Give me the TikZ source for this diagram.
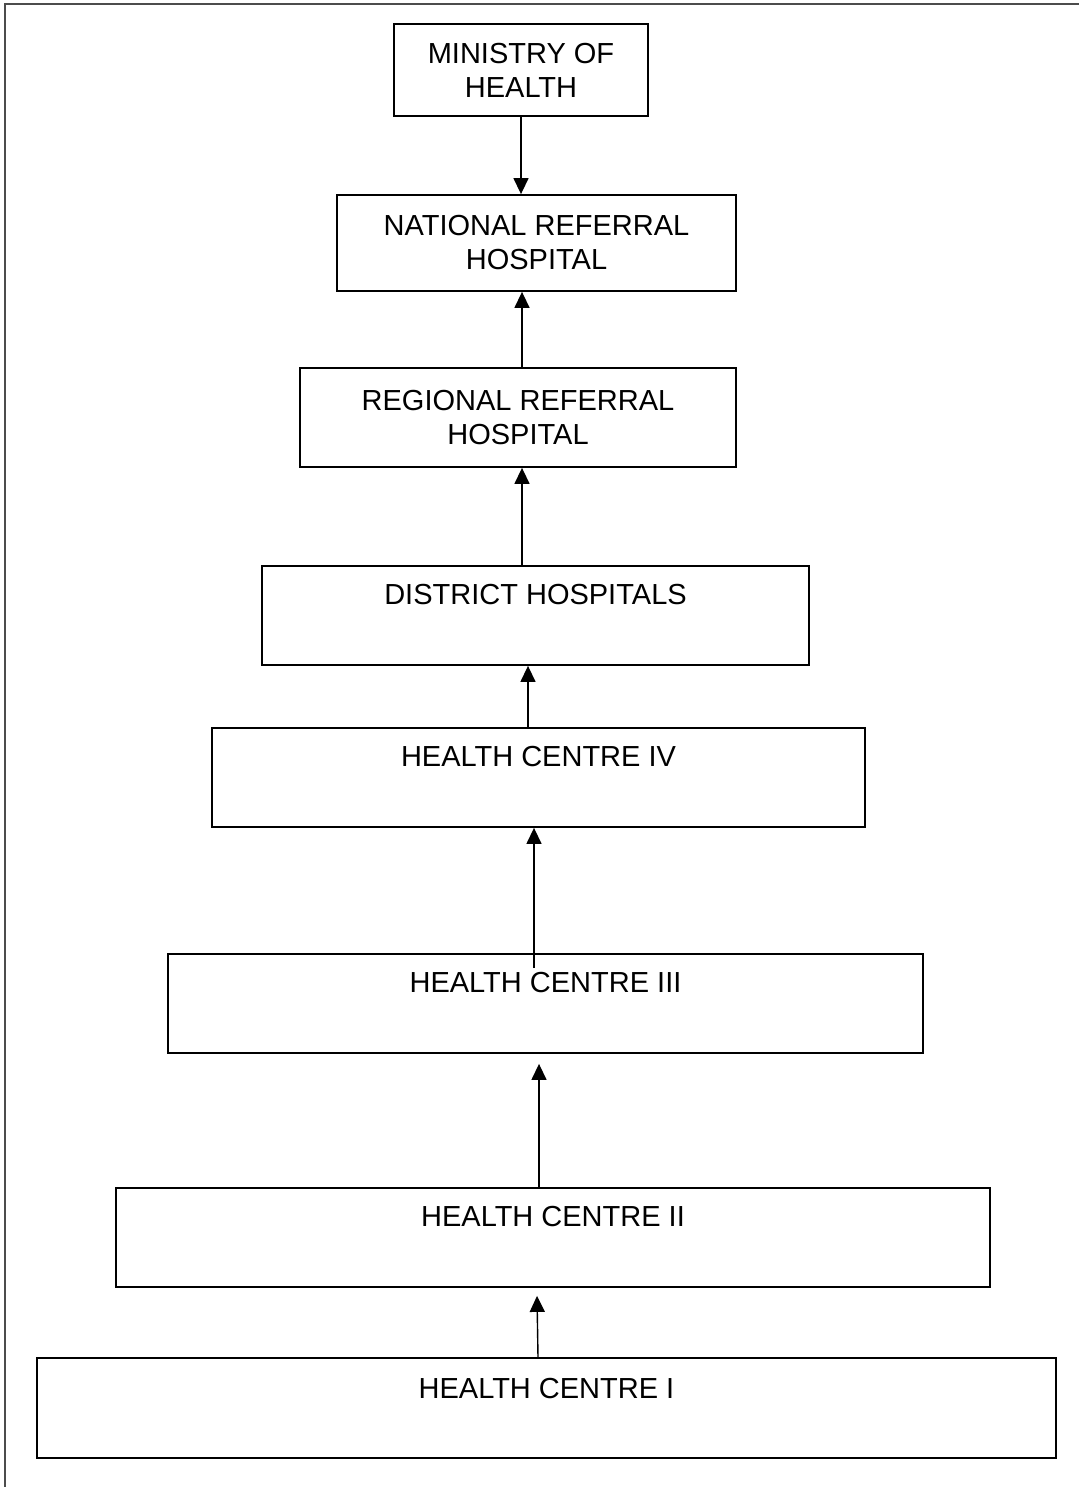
\documentclass[tikz,border=0pt]{standalone}
\usepackage{fontspec}
\setmainfont{Liberation Sans}
\usetikzlibrary{arrows.meta,calc}
\tikzset{
  box/.style={draw=black, line width=1.8pt, align=center, inner sep=0pt,
              font=\fontsize{29}{34}\selectfont},
  arr/.style={draw=black, line width=1.4pt, -{Triangle[length=16pt,width=15pt]}},
  frame/.style={draw=black!70, line width=2pt}
}
\begin{document}
\begin{tikzpicture}[x=1pt,y=-1pt]
\useasboundingbox (0,0) rectangle (1079,1487);
\draw[frame] (5,1487) -- (5,4) -- (1079,4);

\node[box, minimum width=254pt, minimum height=92pt] (min) at (521,70) {MINISTRY OF\\HEALTH};
\node[box, minimum width=399pt, minimum height=96pt] (nat) at (536.5,243) {NATIONAL REFERRAL\\HOSPITAL};
\node[box, minimum width=436pt, minimum height=99pt] (reg) at (518,417.5) {REGIONAL REFERRAL\\HOSPITAL};
\node[box, minimum width=547pt, minimum height=99pt] (dis) at (535.5,615.5) {DISTRICT HOSPITALS\\[9pt]\mbox{}};
\node[box, minimum width=653pt, minimum height=99pt] (hc4) at (538.5,777.5) {HEALTH CENTRE IV\\[9pt]\mbox{}};
\node[box, minimum width=755pt, minimum height=99pt] (hc3) at (545.5,1003.5) {HEALTH CENTRE III\\[9pt]\mbox{}};
\node[box, minimum width=874pt, minimum height=99pt] (hc2) at (553,1237.5) {HEALTH CENTRE II\\[8pt]\mbox{}};
\node[box, minimum width=1019pt, minimum height=100pt] (hc1) at (546.5,1408) {HEALTH CENTRE I\\[5pt]\mbox{}};

\draw[arr] (min.south) -- (min.south |- nat.north);
\draw[arr] ($(reg.north)+(4,0)$) coordinate (r1) -- (r1 |- nat.south);
\draw[arr] ($(dis.north)+(-13.5,0)$) coordinate (d1) -- (d1 |- reg.south);
\draw[arr] ($(hc4.north)+(-10.5,0)$) coordinate (h4) -- (h4 |- dis.south);
\draw[arr] ($(hc3.north)+(-11.5,15)$) coordinate (h3) -- (h3 |- hc4.south);
\draw[arr] ($(hc2.north)+(-14,0)$) coordinate (h2) -- ($(h2 |- hc3.south)+(0,10)$);
\draw[arr] ($(hc1.north)+(-8.5,0)$) -- ($(hc2.south)+(-16,8)$);
\end{tikzpicture}
\end{document}
